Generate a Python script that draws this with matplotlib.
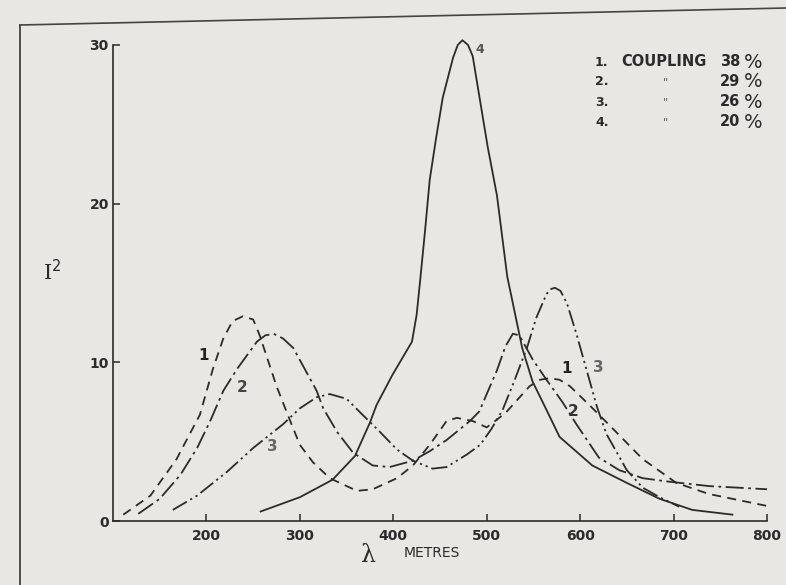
import matplotlib
matplotlib.use('Agg')
import matplotlib.pyplot as plt
from matplotlib.lines import Line2D

# Valores (lambda en metros, I^2)
x1 = [111, 140, 168, 193, 207, 218, 228, 239, 250, 257, 275, 289, 300, 314, 332, 361, 378,
      404, 421, 439, 457, 468, 485, 500, 520, 546, 557, 567, 578, 589, 610, 632, 667, 703, 738, 800]
y1 = [0.4, 1.6, 3.9, 6.7, 9.6, 11.5, 12.6, 12.9, 12.7, 11.7, 8.5, 6.4, 4.8, 3.7, 2.7, 1.9, 2.0,
      2.7, 3.5, 4.8, 6.3, 6.5, 6.3, 5.9, 6.8, 8.5, 8.9, 9.0, 8.9, 8.5, 7.3, 6.0, 3.9, 2.4, 1.7, 0.95]

x2 = [127, 150, 172, 190, 204, 218, 233, 254, 263, 272, 282, 293, 318, 325, 340, 357, 378, 396,
      421, 439, 457, 482, 492, 500, 511, 520, 528, 535, 549, 564, 581, 596, 620, 642,
      667, 692, 738, 800]
y2 = [0.45, 1.4, 2.9, 4.6, 6.3, 8.2, 9.6, 11.3, 11.7, 11.8, 11.5, 10.9, 8.2, 7.1, 5.6, 4.3, 3.5, 3.4,
      3.8, 4.4, 5.1, 6.3, 6.9, 8.0, 9.5, 11.0, 11.8, 11.7, 10.2, 8.9, 7.5, 6.1, 4.0, 3.2,
      2.7, 2.5, 2.2, 2.0]

x3 = [164, 190, 222, 250, 282, 300, 318, 332, 350, 367, 386, 404, 421, 442, 457, 479,
      493, 505, 517, 528, 543, 553, 564, 568, 573, 579, 586, 596, 607, 618, 628, 650, 667, 685, 706]
y3 = [0.7, 1.6, 3.1, 4.6, 6.1, 7.1, 7.8, 8.0, 7.7, 6.7, 5.6, 4.5, 3.8, 3.3, 3.4, 4.2,
      4.8, 5.8, 7.0, 8.6, 10.9, 12.8, 14.3, 14.6, 14.7, 14.5, 13.7, 11.8, 9.5, 7.2, 5.5, 3.2, 2.1, 1.5, 0.9]

x4 = [258, 300, 335, 359, 375, 382, 399, 420, 425, 429, 434, 439, 446, 453, 464, 469, 474,
      480, 485, 492, 501, 511, 522, 538, 549, 564, 578, 613, 650, 685, 720, 763]
y4 = [0.6, 1.5, 2.6, 4.1, 6.2, 7.3, 9.2, 11.3, 13.0, 15.3, 18.3, 21.5, 24.2, 26.7, 29.2, 30.0, 30.3,
      30.0, 29.3, 26.8, 23.6, 20.5, 15.4, 10.9, 8.8, 7.0, 5.3, 3.5, 2.4, 1.4, 0.7, 0.4]

xticks = [200, 300, 400, 500, 600, 700, 800]
yticks = [0, 10, 20, 30]
couplings = ['38', '29', '26', '20']

ink = '#2b2b2b'
paper = '#e8e7e3'

fig = plt.figure(figsize=(7.86, 5.85), dpi=100)
fig.patch.set_facecolor(paper)
ax = fig.add_axes([0.1438, 0.1094, 0.832, 0.8137])
ax.set_facecolor(paper)

# estilos de linea
ax.plot(x1, y1, color=ink, lw=1.3, dashes=(5, 3.5), clip_on=False)
ax.plot(x2, y2, color=ink, lw=1.3, dashes=(10, 2.5, 1.5, 2.5), clip_on=False)
ax.plot(x3, y3, color=ink, lw=1.3, dashes=(9, 2.2, 1.2, 2.2, 1.2, 2.2), clip_on=False)
ax.plot(x4, y4, color=ink, lw=1.3, clip_on=False, solid_joinstyle='round')

ax.set_xlim(100, 800)
ax.set_ylim(0, 30)
ax.set_xticks(xticks)
ax.set_yticks(yticks)
ax.tick_params(direction='in', length=5, width=1.1, colors=ink, labelsize=10, pad=6)
ax.tick_params(axis='y', pad=3)
for lab in ax.get_xticklabels() + ax.get_yticklabels():
    lab.set_fontweight('bold')
for s in ['top', 'right']:
    ax.spines[s].set_visible(False)
for s in ['left', 'bottom']:
    ax.spines[s].set_color(ink)
    ax.spines[s].set_linewidth(1.2)

# numeros sobre las curvas
lbl = dict(fontsize=11, fontweight='bold', ha='center', va='center')
ax.text(197, 10.4, '1', color='#222222', **lbl)
ax.text(238, 8.4, '2', color='#444444', **lbl)
ax.text(271, 4.7, '3', color='#666666', **lbl)
ax.text(586, 9.6, '1', color='#222222', **lbl)
ax.text(592, 6.9, '2', color='#333333', **lbl)
ax.text(619, 9.7, '3', color='#666666', **lbl)
ax.text(493, 29.7, '4', color='#555555', fontsize=9, fontweight='bold', ha='center', va='center')

# leyenda de acoplamiento
rows_y = [62, 82, 102, 122]
for i, (c, yy) in enumerate(zip(couplings, rows_y)):
    fy = 1 - yy / 585
    fig.text(595 / 786, fy, f'{i + 1}.', fontsize=9, fontweight='bold', color=ink, va='center')
    if i == 0:
        fig.text(664 / 786, fy, 'COUPLING', fontsize=10.5, fontweight='bold', color=ink,
                 ha='center', va='center')
    else:
        fig.text(665 / 786, fy, '"', fontsize=8, color='#555555', ha='center', va='center')
    fig.text(730 / 786, fy, c, fontsize=10.5, fontweight='bold', color=ink, ha='center', va='center')
    fig.text(753 / 786, fy, '%', fontsize=14, color=ink, ha='center', va='center')

# titulos de ejes
fig.text(52 / 786, 1 - 272 / 585, r'I$^{2}$', family='DejaVu Serif', fontsize=15,
         color=ink, ha='center', va='center')
fig.text(369 / 786, 1 - 555 / 585, 'λ', family='DejaVu Serif', fontsize=17,
         color=ink, ha='center', va='center')
fig.text(432 / 786, 1 - 553 / 585, 'METRES', fontsize=10, color=ink, ha='center', va='center')

# marco de la pagina escaneada
fig.add_artist(Line2D([20 / 786, 20 / 786], [0, 1 - 25 / 585], transform=fig.transFigure,
                      color='#333333', lw=1.2))
fig.add_artist(Line2D([20 / 786, 1], [1 - 25 / 585, 1 - 8 / 585], transform=fig.transFigure,
                      color='#444444', lw=1.2))

plt.savefig('out.png', dpi=100, facecolor=paper)
